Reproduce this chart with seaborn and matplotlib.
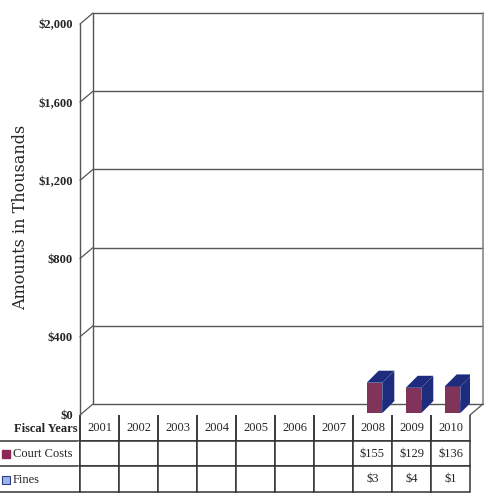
import numpy as np
import pandas as pd
import matplotlib
matplotlib.use("Agg")
import matplotlib.pyplot as plt
import matplotlib.transforms as mtransforms
from matplotlib.patches import Polygon
import seaborn as sns

# ---- data ----
years = ["2001", "2002", "2003", "2004", "2005", "2006", "2007", "2008", "2009", "2010"]
court_costs = [np.nan, np.nan, np.nan, np.nan, np.nan, np.nan, np.nan, 155, 129, 136]
fines = [np.nan, np.nan, np.nan, np.nan, np.nan, np.nan, np.nan, 3, 4, 1]
series_names = ["Court Costs", "Fines"]
y_ticks = [0, 400, 800, 1200, 1600, 2000]
y_tick_labels = ["$0", "$400", "$800", "$1,200", "$1,600", "$2,000"]

front_colors = {"Court Costs": "#8E2758", "Fines": "#9DB3E8"}
side_color = "#1E2C7E"

sns.set_style("white")
plt.rcParams["font.family"] = ["Liberation Serif", "DejaVu Serif"]

W, H = 490, 497
fig = plt.figure(figsize=(W / 100, H / 100), dpi=100)
ax_l, ax_b, ax_w, ax_h = 80, 82, 390, 391
ax = fig.add_axes([ax_l / W, ax_b / H, ax_w / W, ax_h / H])

df = pd.DataFrame({
    "year": years * 2,
    "value": court_costs + fines,
    "series": ["Court Costs"] * len(years) + ["Fines"] * len(years),
})

sns.barplot(data=df, x="year", y="value", hue="series", hue_order=series_names[::-1],
            palette=front_colors, dodge=False, width=0.4, legend=False, ax=ax,
            edgecolor="none", linewidth=0)

ax.set_xlim(-0.5, 9.5)
ax.set_ylim(0, 2000)

px_x = ax_w / 10.0      # px per category
px_y = ax_h / 2000.0    # px per value unit
DX, DY = 13 / px_x, 11 / px_y          # wall depth in data units
BDX, BDY = 12 / px_x, 12 / px_y        # bar depth in data units

# shift bar fronts slightly into depth
bar_tr = mtransforms.offset_copy(ax.transData, fig=fig, x=2, y=2, units="dots")
for p in ax.patches:
    p.set_transform(bar_tr)
    h = p.get_height()
    if not np.isfinite(h) or h <= 0:
        continue
    is_court = h > 10
    p.set_zorder(5 if is_court else 3)
    x, w = p.get_x(), p.get_width()
    fc = side_color if is_court else "#6F86C8"
    top = Polygon([(x, h), (x + w, h), (x + w + BDX, h + BDY), (x + BDX, h + BDY)],
                  closed=True, facecolor=fc, edgecolor="none", transform=bar_tr,
                  zorder=p.get_zorder())
    side = Polygon([(x + w, 0), (x + w, h), (x + w + BDX, h + BDY), (x + w + BDX, BDY)],
                   closed=True, facecolor=fc, edgecolor="none", transform=bar_tr,
                   zorder=p.get_zorder())
    ax.add_patch(top)
    ax.add_patch(side)

# ---- 3D walls / gridlines ----
lc = "#555555"
x0, x1 = -0.5, 9.5
for yv in y_ticks:
    ax.plot([x0 + DX, x1 + DX], [yv + DY, yv + DY], color=lc, lw=1.0, clip_on=False, zorder=1)
    ax.plot([x0, x0 + DX], [yv, yv + DY], color=lc, lw=0.9, clip_on=False, zorder=1)
ax.plot([x0 + DX, x0 + DX], [DY, 2000 + DY], color=lc, lw=1.0, clip_on=False, zorder=1)
ax.plot([x1 + DX, x1 + DX], [DY, 2000 + DY], color="#888888", lw=1.2, clip_on=False, zorder=1)
ax.plot([x1, x1 + DX], [0, DY], color=lc, lw=0.9, clip_on=False, zorder=1)

for s in ["top", "right", "bottom"]:
    ax.spines[s].set_visible(False)
ax.spines["left"].set_color("#555555")
ax.spines["left"].set_linewidth(1.0)

ax.set_yticks(y_ticks)
ax.set_yticklabels(y_tick_labels)
ax.tick_params(axis="y", direction="out", length=4, width=0.9, color="#555555",
               labelsize=9, pad=1)
for t in ax.get_yticklabels():
    t.set_fontweight("semibold")
ax.set_xticks([])
ax.set_xlabel("")
ax.set_ylabel("Amounts in Thousands", fontsize=11.5, family=["DejaVu Serif"])
ax.yaxis.set_label_coords(-0.13, 0.505)

# ---- data table ----
def fmt(v):
    return "" if not np.isfinite(v) else f"${int(v)}"

cell_text = [[""] + years,
             [""] + [fmt(v) for v in court_costs],
             [""] + [fmt(v) for v in fines]]
tbl_left, tbl_right = 0, 470
tbl_top, tbl_bot = 415, 492
bx = (tbl_left - ax_l) / ax_w
bw = (tbl_right - tbl_left) / ax_w
by = -(tbl_bot - 415) / ax_h
bh = (tbl_bot - tbl_top) / ax_h
table = ax.table(cellText=cell_text, cellLoc="center", bbox=[bx, by, bw, bh],
                 colWidths=[80] + [39] * 10)
table.auto_set_font_size(False)
for (r, c), cell in table.get_celld().items():
    cell.set_edgecolor("#333333")
    cell.set_linewidth(1.1)
    cell.get_text().set_fontsize(9)
    if c == 0:
        cell.visible_edges = "BR"
    elif r == 0:
        cell.visible_edges = "LRB"

def ay(py):
    return (415 - py) / ax_h

def axx(px):
    return (px - ax_l) / ax_w

ax.text(axx(77), ay(429), "Fiscal Years", ha="right", va="center", fontsize=9,
        fontweight="bold", transform=ax.transAxes, clip_on=False)
ax.text(axx(13), ay(454), "Court Costs", ha="left", va="center", fontsize=9,
        transform=ax.transAxes, clip_on=False)
ax.text(axx(13), ay(480), "Fines", ha="left", va="center", fontsize=9,
        transform=ax.transAxes, clip_on=False)
ax.plot([axx(6)], [ay(454)], marker="s", markersize=5.5, color=front_colors["Court Costs"],
        transform=ax.transAxes, clip_on=False)
ax.plot([axx(6)], [ay(480)], marker="s", markersize=5.5, markerfacecolor=front_colors["Fines"],
        markeredgecolor="#2B3F8F", markeredgewidth=0.8, transform=ax.transAxes, clip_on=False)

fig.savefig("out.png", dpi=100)
